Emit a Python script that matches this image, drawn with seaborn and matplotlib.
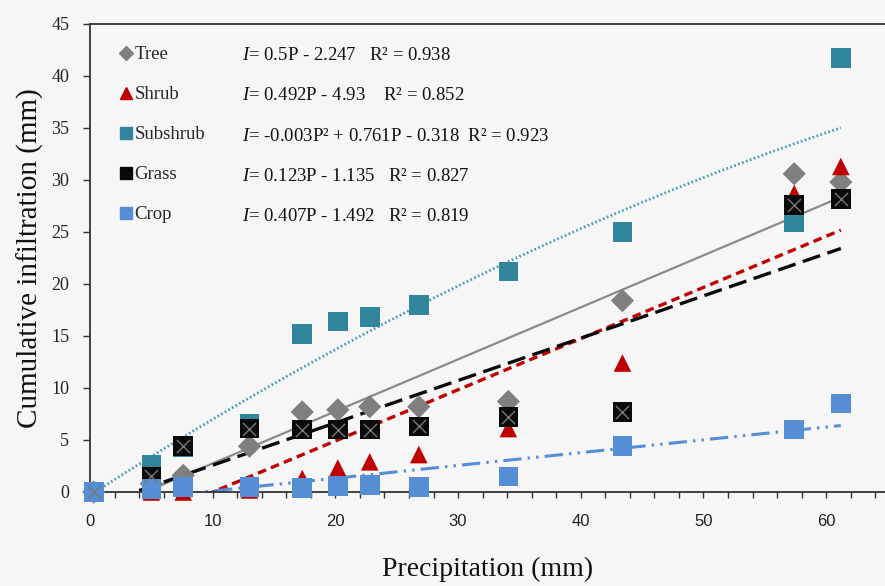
import numpy as np
import matplotlib
matplotlib.use("Agg")
import matplotlib.pyplot as plt
from matplotlib.lines import Line2D
from matplotlib.ticker import MultipleLocator
import seaborn as sns

# precipitation (mm) at each event
precip = [0.3, 5.0, 7.6, 13.0, 17.3, 20.2, 22.8, 26.8, 34.1, 43.4, 57.4, 61.2]

# cumulative infiltration (mm) per land use
tree = [0.0, 0.8, 1.6, 4.4, 7.7, 7.9, 8.2, 8.2, 8.7, 18.4, 30.6, 29.8]
shrub = [0.0, 0.0, 0.0, 0.2, 1.3, 2.3, 2.9, 3.6, 6.1, 12.4, 28.7, 31.3]
subshrub = [0.0, 2.6, 4.3, 6.6, 15.2, 16.4, 16.8, 18.0, 21.2, 25.0, 25.9, 41.7]
grass = [0.0, 1.5, 4.4, 6.1, 6.0, 6.0, 6.0, 6.3, 7.2, 7.7, 27.6, 28.2]
crop = [0.0, 0.3, 0.5, 0.5, 0.4, 0.6, 0.7, 0.5, 1.5, 4.4, 6.0, 8.5]

# trendline coefficients (highest power first) as drawn in the figure
fit_tree = [0.5, -2.247]
fit_shrub = [0.492, -4.93]
fit_subshrub = [-0.003, 0.761, -0.318]
fit_black = [0.407, -1.492]
fit_blue = [0.123, -1.135]

labels = ["Tree", "Shrub", "Subshrub", "Grass", "Crop"]
equations = [
    r"$\mathit{I}$= 0.5P - 2.247   R² = 0.938",
    r"$\mathit{I}$= 0.492P - 4.93    R² = 0.852",
    r"$\mathit{I}$= -0.003P² + 0.761P - 0.318  R² = 0.923",
    r"$\mathit{I}$= 0.123P - 1.135   R² = 0.827",
    r"$\mathit{I}$= 0.407P - 1.492   R² = 0.819",
]

sns.set_style("ticks")
plt.rcParams["font.family"] = ["Liberation Serif", "DejaVu Serif"]
plt.rcParams["mathtext.fontset"] = "custom"
plt.rcParams["mathtext.rm"] = "Liberation Serif"
plt.rcParams["mathtext.it"] = "Liberation Serif:italic"

bg = "#f6f6f6"
c_tree, c_shrub, c_sub, c_grass, c_crop = "#7f7f7f", "#c00000", "#31859c", "#0a0a0a", "#558ed5"

fig = plt.figure(figsize=(8.85, 5.86), dpi=100, facecolor=bg)
ax = fig.add_axes([90 / 885, 1 - 492 / 586, 795 / 885, 468 / 586])
ax.set_facecolor(bg)

x = np.array(precip)
xs = np.linspace(0, x.max(), 300)

# trendlines
lines = [
    (fit_subshrub, "#3f9db3", 2.0, (0.6, 0.9)),
    (fit_tree, "#8a8a8a", 1.6, None),
    (fit_shrub, c_shrub, 2.4, (2.6, 1.6)),
    (fit_black, c_grass, 2.4, (5.5, 2.3)),
    (fit_blue, c_crop, 2.2, (6, 2, 0.8, 2, 0.8, 2)),
]
for coefs, col, lw, dash in lines:
    sns.lineplot(x=xs, y=np.polyval(coefs, xs), color=col, linewidth=lw, ax=ax)
    if dash is not None:
        ax.lines[-1].set_dashes(dash)

# data points
series = [
    (tree, "D", c_tree, 140),
    (shrub, "^", c_shrub, 160),
    (subshrub, "s", c_sub, 200),
    (grass, "s", c_grass, 200),
    (crop, "s", c_crop, 200),
]
for vals, mk, col, size in series:
    sns.scatterplot(x=precip, y=vals, marker=mk, color=col, s=size,
                    edgecolor="none", ax=ax, zorder=3)
sns.scatterplot(x=precip, y=grass, marker="x", color="#777777", s=90,
                linewidth=1.0, ax=ax, zorder=3)
for coll in ax.collections:
    coll.set_clip_on(False)

ax.set_xlim(0, 64.8)
ax.set_ylim(0, 45)
ax.xaxis.set_major_locator(MultipleLocator(10))
ax.xaxis.set_minor_locator(MultipleLocator(2))
ax.yaxis.set_major_locator(MultipleLocator(5))
ax.tick_params(axis="x", which="both", direction="out", length=4, width=1,
               color="#333333", pad=12, labelsize=12, labelcolor="#222222")
ax.tick_params(axis="y", direction="out", length=5, width=1, color="#333333",
               pad=10, labelsize=13, labelcolor="#222222")
for lab in ax.get_xticklabels():
    lab.set_family(["Liberation Sans", "DejaVu Sans"])

for side in ["left", "bottom", "top"]:
    ax.spines[side].set_color("#333333")
    ax.spines[side].set_linewidth(1.3)
ax.spines["right"].set_visible(False)

ax.set_xlabel("Precipitation (mm)", fontsize=20, labelpad=20, color="#111111")
ax.set_ylabel("Cumulative infiltration (mm)", fontsize=21, labelpad=5, color="#111111")

# legend rows with equations
handles = [Line2D([], [], linestyle="none", marker=mk, color=col, markersize=ms)
           for mk, col, ms in [("D", c_tree, 7), ("^", c_shrub, 8), ("s", c_sub, 8),
                               ("s", c_grass, 8), ("s", c_crop, 8)]]
ax.legend(handles, labels, loc="upper left", bbox_to_anchor=(0.038, 0.953),
          frameon=False, fontsize=13.5, labelspacing=1.22, handlelength=0.6,
          handletextpad=0.15, borderaxespad=0, borderpad=0)
for i, eq in enumerate(equations):
    ax.text(0.191, 0.933 - i * 0.0862, eq, transform=ax.transAxes, fontsize=13.5,
            va="center", ha="left", color="#111111")

fig.savefig("out.png", dpi=100, facecolor=bg)
